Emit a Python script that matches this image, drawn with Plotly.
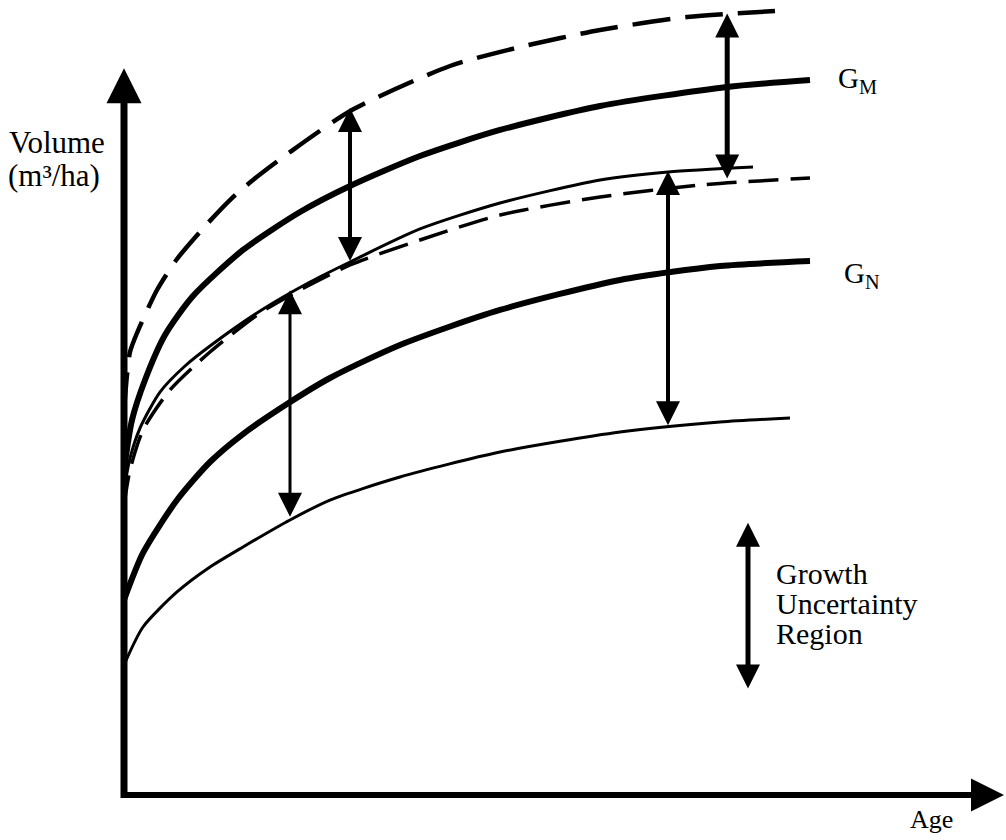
import plotly.graph_objects as go

# ---------------- data (Age units, Volume units) ----------------
upper_dashed_age = [0, 0.375, 0.75, 1.625, 4.125, 6.625, 10.375, 13.625, 16.125, 20.75, 28.5, 40.75, 49.5, 59.5, 70.375, 81.375]
upper_dashed_vol = [51.33, 56.0, 59.07, 61.6, 67.33, 71.47, 76.13, 79.73, 82.0, 85.73, 91.33, 97.2, 99.73, 102.0, 103.73, 104.53]

gm_age = [0, 1.0, 2.625, 5.125, 8.625, 14.875, 22.0, 28.25, 37.0, 47.0, 59.5, 75.375, 85.75]
gm_vol = [43.33, 50.0, 55.33, 61.33, 66.53, 72.67, 77.73, 81.2, 85.2, 88.67, 91.87, 94.4, 95.33]

thin_upper_age = [0, 0.75, 2.0, 4.5, 7.625, 10.75, 17.0, 23.25, 28.25, 37.0, 47.0, 59.5, 68.0, 78.625]
thin_upper_vol = [40.67, 44.93, 48.93, 53.73, 57.2, 59.87, 64.53, 68.4, 71.07, 75.47, 78.93, 82.0, 83.07, 83.73]

lower_dashed_age = [0, 0.75, 2.375, 5.75, 10.75, 17.0, 22.0, 28.25, 37.0, 47.0, 59.5, 72.0, 85.75]
lower_dashed_vol = [38.67, 43.33, 48.67, 54.0, 59.07, 64.27, 67.33, 70.67, 74.0, 77.33, 79.73, 81.33, 82.27]

gn_age = [0, 2.375, 6.625, 10.75, 14.875, 20.375, 25.75, 34.5, 47.0, 62.0, 74.5, 85.75]
gn_vol = [26.0, 32.27, 39.33, 44.4, 48.13, 52.13, 55.6, 60.0, 64.67, 68.67, 70.53, 71.2]

thin_lower_age = [0, 2.375, 6.625, 10.75, 14.875, 20.75, 25.75, 34.5, 47.0, 62.0, 74.5, 83.25]
thin_lower_vol = [17.33, 22.4, 27.07, 30.4, 33.07, 36.67, 39.33, 42.4, 45.73, 48.4, 49.73, 50.27]

# double-headed uncertainty arrows: age, top volume, bottom volume
arrow_age = [28.25, 75.4, 20.75, 68.0, 78.0]
arrow_top = [91.6, 104.2, 67.3, 83.2, 36.3]
arrow_bottom = [71.0, 82.0, 36.9, 49.1, 14.0]

# axes extents
axis_origin = (0, 0)
y_axis_top = 96.9
x_axis_end = 110.0

# ---------------- styling / positions ----------------
X_RANGE = [-15.5, 110.25]
Y_RANGE = [-6.0, 106.0]
SERIF = "Liberation Serif"
arrow_widths = [4, 5, 3, 4, 5]

fig = go.Figure()


def curve(xs, ys, width, dash=None):
    line = dict(color="black", width=width, shape="spline", smoothing=0.7)
    if dash:
        line["dash"] = dash
    fig.add_trace(go.Scatter(x=xs, y=ys, mode="lines", line=line,
                             hoverinfo="skip", showlegend=False))


curve(upper_dashed_age, upper_dashed_vol, 4.5, "38px,15px")
curve(gm_age, gm_vol, 6)
curve(thin_upper_age, thin_upper_vol, 3)
curve(lower_dashed_age, lower_dashed_vol, 3.5, "30px,12px")
curve(gn_age, gn_vol, 6)
curve(thin_lower_age, thin_lower_vol, 3)

annotations = []

# axes with arrowheads
annotations.append(dict(x=axis_origin[0], y=y_axis_top, ax=axis_origin[0], ay=-0.6,
                        xref="x", yref="y", axref="x", ayref="y", text="",
                        showarrow=True, arrowhead=2, arrowsize=1.0, arrowwidth=7,
                        arrowcolor="black", standoff=0))
annotations.append(dict(x=x_axis_end, y=axis_origin[1], ax=-0.3, ay=axis_origin[1],
                        xref="x", yref="y", axref="x", ayref="y", text="",
                        showarrow=True, arrowhead=2, arrowsize=1.1, arrowwidth=6,
                        arrowcolor="black", standoff=0))

for a, top, bot, w in zip(arrow_age, arrow_top, arrow_bottom, arrow_widths):
    size = 24.0 / 5.0 / w
    annotations.append(dict(x=a, y=top, ax=a, ay=bot,
                            xref="x", yref="y", axref="x", ayref="y", text="",
                            showarrow=True, arrowhead=2, startarrowhead=2,
                            arrowside="end+start", arrowsize=size, startarrowsize=size,
                            arrowwidth=w, arrowcolor="black", standoff=0, startstandoff=0))


def label(x, y, text, size):
    annotations.append(dict(x=x, y=y, xref="x", yref="y", text=text, showarrow=False,
                            xanchor="left", yanchor="middle",
                            font=dict(family=SERIF, size=size, color="black")))


label(-14.6, 87.0, "Volume", 31)
label(-14.8, 82.6, "(m\u00b3/ha)", 31)
label(89.0, 95.3, "G<sub>M</sub>", 29)
label(89.8, 69.4, "G<sub>N</sub>", 29)
label(81.2, 29.6, "Growth", 30)
label(81.2, 25.6, "Uncertainty", 30)
label(81.2, 21.6, "Region", 30)
label(98.0, -3.2, "Age", 26)

fig.update_layout(
    width=1006, height=840,
    margin=dict(l=0, r=0, t=0, b=0),
    paper_bgcolor="white", plot_bgcolor="white",
    xaxis=dict(range=X_RANGE, visible=False, fixedrange=True),
    yaxis=dict(range=Y_RANGE, visible=False, fixedrange=True),
    annotations=annotations,
    showlegend=False,
)

fig.write_html("out.html",
               config={"displayModeBar": False},
               post_script="document.body.style.margin='0';document.body.style.overflow='hidden';")
